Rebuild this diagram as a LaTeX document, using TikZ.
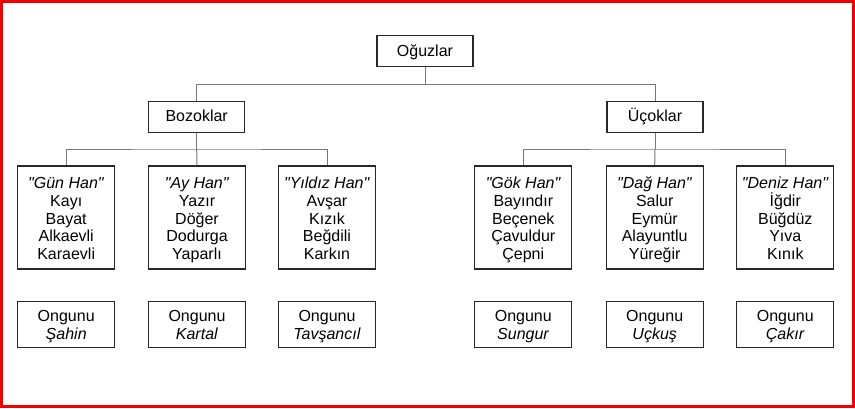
\documentclass[tikz,border=0pt]{standalone}
\usepackage{fontspec}
\setmainfont{Liberation Sans}
\definecolor{framered}{RGB}{240,0,0}
\definecolor{boxline}{RGB}{40,40,40}
\definecolor{connline}{RGB}{120,120,120}
\newcommand{\qt}[1]{\textit{\textquotedbl#1\textquotedbl}}
\newcommand{\topstrutA}{\rule{0pt}{18.5pt}}
\newcommand{\topstrutB}{\rule{0pt}{16.5pt}}
\begin{document}
\begin{tikzpicture}[x=1pt,y=-1pt,
  every node/.style={font=\fontsize{16}{17.8}\selectfont},
  topbox/.style={draw=boxline,line width=1.2pt,minimum width=96pt,minimum height=31pt,inner sep=0pt},
  clanbox/.style={draw=boxline,line width=1.2pt,minimum width=97pt,minimum height=103pt,inner sep=0pt,align=center},
  ongbox/.style={draw=boxline,line width=1.2pt,minimum width=97pt,minimum height=46pt,inner sep=0pt,align=center},
  conn/.style={draw=connline,line width=1pt}]
\useasboundingbox (0,0) rectangle (855,408);
\fill[white] (0,0) rectangle (855,408);
\draw[framered,line width=3pt] (1.5,1.5) rectangle (853.5,406.5);

\node[topbox] (og) at (425,51.2) {\rule{0pt}{14pt}Oğuzlar};
\node[topbox] (boz) at (196.7,116.7) {\rule{0pt}{14pt}Bozoklar\rule[-3.5pt]{0pt}{0pt}};
\node[topbox] (uc) at (655,116.7) {\rule{0pt}{14pt}Üçoklar\rule[-3.5pt]{0pt}{0pt}};

\node[clanbox] (gun) at (66.2,217.5) {\topstrutA\qt{Gün Han}\\Kayı\\Bayat\\Alkaevli\\Karaevli\strut};
\node[clanbox] (ay) at (197,217.5) {\topstrutA\qt{Ay Han}\\Yazır\\Döğer\\Dodurga\\Yaparlı\strut};
\node[clanbox] (yil) at (327,217.5) {\topstrutA\qt{Yıldız Han}\\Avşar\\Kızık\\Beğdili\\Karkın\strut};
\node[clanbox] (gok) at (523.3,217.5) {\topstrutA\qt{Gök Han}\\Bayındır\\Beçenek\\Çavuldur\\Çepni\strut};
\node[clanbox] (dag) at (654.7,217.5) {\topstrutA\qt{Dağ Han}\\Salur\\Eymür\\Alayuntlu\\Yüreğir\strut};
\node[clanbox] (den) at (785.3,217.5) {\topstrutA\qt{Deniz Han}\\İğdir\\Büğdüz\\Yıva\\Kınık\strut};

\node[ongbox] (o1) at (66.2,324.7) {\topstrutB Ongunu\\\textit{Şahin}\strut};
\node[ongbox] (o2) at (197,324.7) {\topstrutB Ongunu\\\textit{Kartal}\strut};
\node[ongbox] (o3) at (327,324.7) {\topstrutB Ongunu\\\textit{Tavşancıl}\strut};
\node[ongbox] (o4) at (523.3,324.7) {\topstrutB Ongunu\\\textit{Sungur}\strut};
\node[ongbox] (o5) at (654.7,324.7) {\topstrutB Ongunu\\\textit{Uçkuş}\strut};
\node[ongbox] (o6) at (785.3,324.7) {\topstrutB Ongunu\\\textit{Çakır}\strut};

\coordinate (b1) at (425,84.3);
\coordinate (b2) at (196.7,149);
\coordinate (b3) at (655,149);

\draw[conn] (og.south) -- (b1);
\draw[conn] (boz.north) |- (b1) -| (uc.north);
\draw[conn] (boz.south) -- (b2);
\draw[conn] (gun.north) |- (b2) -| (yil.north);
\draw[conn] (b2) -- (ay.north);
\draw[conn] (uc.south) -- (b3);
\draw[conn] (gok.north) |- (b3) -| (den.north);
\draw[conn] (b3) -- (dag.north);
\end{tikzpicture}
\end{document}
